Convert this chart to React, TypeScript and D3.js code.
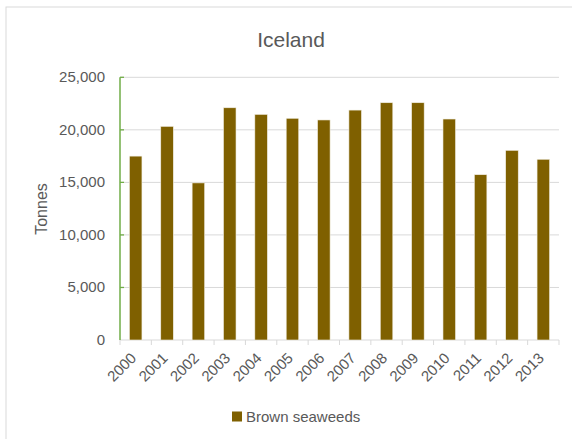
import React from "react";
import * as d3 from "d3";

const years = ["2000","2001","2002","2003","2004","2005","2006","2007","2008","2009","2010","2011","2012","2013"];
const brownSeaweeds = [17500, 20330, 14950, 22100, 21470, 21100, 20940, 21880, 22580, 22580, 21030, 15730, 18050, 17200];
const yTicks = [0, 5000, 10000, 15000, 20000, 25000];
const seriesName = "Brown seaweeds";
const title = "Iceland";
const yLabel = "Tonnes";

export default function App() {
  const W = 572, H = 439;
  const left = 120, right = 559, top = 77.3, bottom = 340;
  const font = "'Liberation Sans', Arial, sans-serif";
  const text = "#595959";
  const x = d3.scaleBand<string>().domain(years).range([left, right]).paddingInner(0.6).paddingOuter(0.3);
  const xb = d3.scaleBand<string>().domain(years).range([left, right]);
  const y = d3.scaleLinear().domain([0, 25000]).range([bottom, top]);
  const fmt = d3.format(",");
  return (
    <svg width={W} height={H} style={{ position: "absolute", left: 0, top: 0, background: "#fff" }}>
      <rect x={6} y={7} width={600} height={500} fill="#fff" stroke="#d9d9d9" strokeWidth={1} />
      <text x={291} y={47} textAnchor="middle" fontFamily={font} fontSize={21} fill={text}>{title}</text>
      {yTicks.map(t => (
        <g key={t}>
          {t > 0 && <line x1={left} x2={right} y1={y(t)} y2={y(t)} stroke="#d9d9d9" strokeWidth={1} />}
          <text x={105} y={y(t) + 5} textAnchor="end" fontFamily={font} fontSize={15} fill={text}>{fmt(t)}</text>
          {t > 0 && <line x1={left} x2={left + 4} y1={y(t)} y2={y(t)} stroke="#70ad47" strokeWidth={1.3} />}
        </g>
      ))}
      <line x1={left} x2={right} y1={bottom} y2={bottom} stroke="#d9d9d9" strokeWidth={1} />
      {[...years.map(c => xb(c)!), right].map((p, i) => (
        <line key={i} x1={p} x2={p} y1={bottom} y2={bottom + 5} stroke="#d9d9d9" strokeWidth={1} />
      ))}
      {years.map((c, i) => (
        <rect key={c} x={x(c)!} y={y(brownSeaweeds[i])} width={x.bandwidth()} height={bottom - y(brownSeaweeds[i])}
          fill="#7f6000" stroke="#f2efe4" strokeWidth={0.6} />
      ))}
      <line x1={left} x2={left} y1={top} y2={bottom} stroke="#70ad47" strokeWidth={1.5} />
      {years.map(c => {
        const cx = xb(c)! + xb.bandwidth() / 2 + 1.5;
        const cy = bottom + 19;
        return (
          <text key={c} x={cx} y={cy} transform={`rotate(-45 ${cx} ${cy})`} textAnchor="end" fontFamily={font} fontSize={15} fill={text}>{c}</text>
        );
      })}
      <text x={0} y={0} transform={`translate(47 209) rotate(-90)`} textAnchor="middle" fontFamily={font} fontSize={16} fill={text}>{yLabel}</text>
      <rect x={232} y={411.5} width={10} height={10} fill="#7f6000" />
      <text x={246} y={422} fontFamily={font} fontSize={15} fill={text}>{seriesName}</text>
    </svg>
  );
}
